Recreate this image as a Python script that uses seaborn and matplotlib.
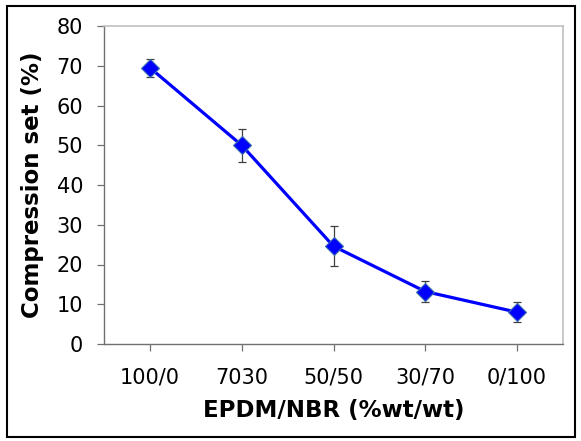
import matplotlib
matplotlib.use("Agg")
import matplotlib.pyplot as plt
import seaborn as sns
import pandas as pd
from matplotlib.patches import Rectangle

categories = ["100/0", "7030", "50/50", "30/70", "0/100"]
compression_set = [69.5, 50.0, 24.6, 13.2, 8.0]
error = [2.3, 4.2, 5.0, 2.6, 2.5]
y_ticks = [0, 10, 20, 30, 40, 50, 60, 70, 80]

df = pd.DataFrame({"blend": categories, "cs": compression_set, "err": error})

sns.set_style("white")
plt.rcParams["font.family"] = ["DejaVu Sans"]
plt.rcParams["text.color"] = "black"
plt.rcParams["axes.labelcolor"] = "black"

fig = plt.figure(figsize=(5.81, 4.41), dpi=100)
ax = fig.add_axes([104/581, 1-344/441, (563-104)/581, (344-26)/441])

ax.errorbar(df["blend"], df["cs"], yerr=df["err"], fmt="none",
            ecolor="#404040", elinewidth=0.9, capsize=3, capthick=0.9, zorder=2)
sns.lineplot(data=df, x="blend", y="cs", ax=ax, color="#0000FF", linewidth=2.3,
             marker="D", markersize=9.5, markerfacecolor="#0000FF",
             markeredgecolor="#3a6fb0", markeredgewidth=0.8, sort=False, zorder=3)

ax.set_xlim(-0.5, len(categories) - 0.5)
ax.set_ylim(0, 80)
ax.set_yticks(y_ticks)
ax.set_yticklabels([str(t) for t in y_ticks])
ax.set_xticks(range(len(categories)))
ax.set_xticklabels(categories)

ax.tick_params(axis="both", which="both", direction="out", length=5, width=0.9,
               colors="#707070", labelcolor="black", labelsize=15, left=True, bottom=True)
ax.tick_params(axis="x", pad=12)
ax.tick_params(axis="y", pad=10)

for side in ["left", "bottom"]:
    ax.spines[side].set_color("#707070")
    ax.spines[side].set_linewidth(1.0)
for side in ["top", "right"]:
    ax.spines[side].set_color("#c0c0c0")
    ax.spines[side].set_linewidth(1.2)
    ax.spines[side].set_visible(True)

ax.set_xlabel("EPDM/NBR (%wt/wt)", fontsize=16.5, fontweight="bold", labelpad=8, color="black")
ax.set_ylabel("Compression set (%)", fontsize=16.5, fontweight="bold", labelpad=9, color="black")

fig.patches.append(Rectangle((7/581, 1-437/441), (575-7)/581, (437-6)/441,
                             transform=fig.transFigure, fill=False,
                             edgecolor="black", linewidth=1.5))

fig.savefig("out.png", dpi=100)
